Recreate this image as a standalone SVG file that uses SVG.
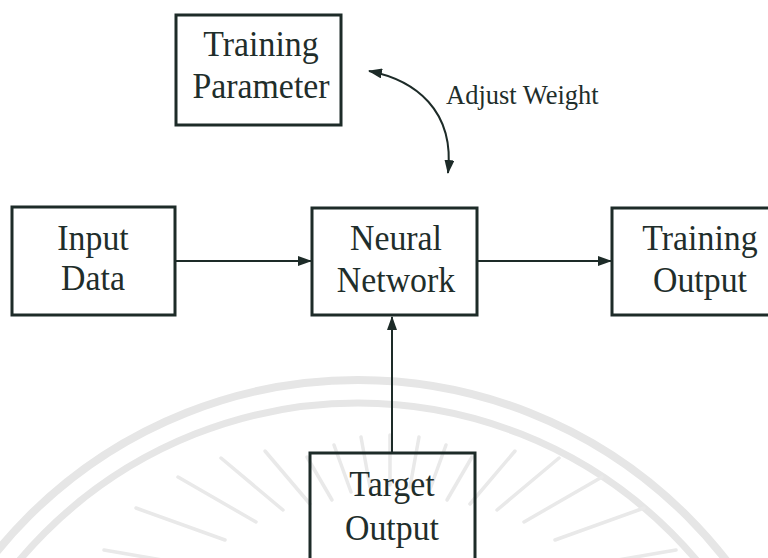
<svg xmlns="http://www.w3.org/2000/svg" width="768" height="558" viewBox="0 0 768 558">
  <style>
    .box { fill: none; stroke: #1d2b28; stroke-width: 3; }
    .lbl { font-family: "Liberation Serif", "Times New Roman", serif; font-size: 36px; fill: #1f2e2b; text-anchor: middle; }
    .note { font-family: "Liberation Serif", "Times New Roman", serif; font-size: 26.5px; fill: #1f2e2b; }
    .wire { fill: none; stroke: #1d2b28; stroke-width: 2; }
    .wm { fill: none; stroke: #e6e6e6; stroke-linecap: round; }
  </style>
  <defs>
    <marker id="ah" viewBox="0 0 14 10" refX="13" refY="5" markerWidth="14" markerHeight="10" orient="auto-start-reverse" markerUnits="userSpaceOnUse">
      <path d="M0,0 L14,5 L0,10 Z" fill="#1d2b28"/>
    </marker>
  </defs>

  <rect width="768" height="558" fill="#ffffff"/>

  <!-- faint emblem in the background -->
  <g id="emblem" class="wm">
    <circle cx="358" cy="846" r="466" stroke-width="8"/>
    <circle cx="358" cy="846" r="443" stroke-width="7"/>
    <g stroke-width="3.5" stroke="#e9e9e9">
      <line x1="203" y1="567" x2="104" y2="550"/>
      <line x1="225" y1="540" x2="136" y2="508"/>
      <line x1="256" y1="522" x2="178" y2="477"/>
      <line x1="283" y1="510" x2="221" y2="458"/>
      <line x1="310" y1="504" x2="265" y2="451"/>
      <line x1="332" y1="500" x2="307" y2="457"/>
      <line x1="351" y1="492" x2="334" y2="445"/>
      <line x1="370" y1="487" x2="361" y2="437"/>
      <line x1="390" y1="485" x2="390" y2="435"/>
      <line x1="410" y1="487" x2="419" y2="437"/>
      <line x1="429" y1="492" x2="446" y2="445"/>
      <line x1="447" y1="500" x2="472" y2="457"/>
      <line x1="470" y1="504" x2="515" y2="451"/>
      <line x1="497" y1="510" x2="559" y2="458"/>
      <line x1="524" y1="522" x2="602" y2="477"/>
      <line x1="555" y1="540" x2="644" y2="508"/>
      <line x1="577" y1="567" x2="676" y2="550"/>
    </g>
  </g>

  <g id="connectors">
    <path class="wire" d="M176,261 L311,261" marker-end="url(#ah)"/>
    <path class="wire" d="M478,261 L611,261" marker-end="url(#ah)"/>
    <path class="wire" d="M392,453 L392,317" marker-end="url(#ah)"/>
    <path class="wire" d="M369,71 C415,80 455,110 448,173" marker-start="url(#ah)" marker-end="url(#ah)"/>
    <text class="note" x="446" y="104">Adjust Weight</text>
  </g>

  <!-- box labels are set slightly narrow -->
  <g id="training-parameter">
    <rect class="box" x="176" y="15" width="165" height="110"/>
    <text class="lbl" transform="translate(261,56) scale(0.94,1)">Training</text>
    <text class="lbl" transform="translate(261,98) scale(0.94,1)">Parameter</text>
  </g>

  <g id="input-data">
    <rect class="box" x="12" y="207" width="163" height="108"/>
    <text class="lbl" transform="translate(93,250) scale(0.94,1)">Input</text>
    <text class="lbl" transform="translate(93,290) scale(0.94,1)">Data</text>
  </g>

  <g id="neural-network">
    <rect class="box" x="312" y="208" width="165" height="107"/>
    <text class="lbl" transform="translate(396,250) scale(0.94,1)">Neural</text>
    <text class="lbl" transform="translate(396,292) scale(0.94,1)">Network</text>
  </g>

  <g id="training-output">
    <rect class="box" x="612" y="208" width="170" height="107"/>
    <text class="lbl" transform="translate(700,250) scale(0.94,1)">Training</text>
    <text class="lbl" transform="translate(700,292) scale(0.94,1)">Output</text>
  </g>

  <g id="target-output">
    <rect class="box" x="310" y="453" width="165" height="120"/>
    <text class="lbl" transform="translate(392,496) scale(0.94,1)">Target</text>
    <text class="lbl" transform="translate(392,540) scale(0.94,1)">Output</text>
  </g>
</svg>
